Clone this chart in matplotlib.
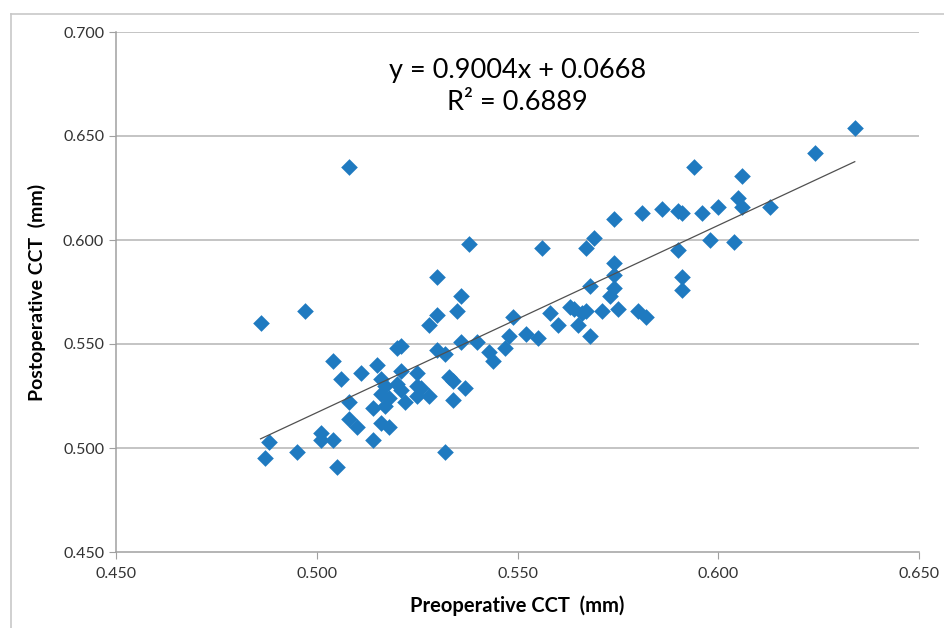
import matplotlib
matplotlib.use('Agg')
import matplotlib.pyplot as plt
from matplotlib.lines import Line2D
import numpy as np

plt.rcParams['font.family'] = ['Lato', 'DejaVu Sans']

# preoperative / postoperative CCT (mm)
pre_cct = [0.486, 0.487, 0.488, 0.495, 0.497, 0.501, 0.501, 0.504, 0.504, 0.505,
           0.506, 0.508, 0.508, 0.508, 0.510, 0.511, 0.514, 0.514, 0.515, 0.516,
           0.516, 0.516, 0.517, 0.517, 0.518, 0.518, 0.520, 0.521, 0.521, 0.520,
           0.521, 0.522, 0.525, 0.525, 0.525, 0.526, 0.528, 0.528, 0.530, 0.530,
           0.530, 0.532, 0.532, 0.533, 0.534, 0.534, 0.535, 0.536, 0.536, 0.537,
           0.538, 0.540, 0.543, 0.544, 0.547, 0.548, 0.549, 0.552, 0.555, 0.556,
           0.558, 0.560, 0.563, 0.564, 0.565, 0.566, 0.567, 0.568, 0.568, 0.567,
           0.569, 0.571, 0.573, 0.574, 0.574, 0.574, 0.574, 0.575, 0.580, 0.581,
           0.582, 0.586, 0.590, 0.591, 0.590, 0.591, 0.591, 0.594, 0.596, 0.598,
           0.600, 0.604, 0.605, 0.606, 0.606, 0.613, 0.624, 0.634]
post_cct = [0.560, 0.495, 0.503, 0.498, 0.566, 0.507, 0.504, 0.542, 0.504, 0.491,
            0.533, 0.635, 0.522, 0.514, 0.510, 0.536, 0.519, 0.504, 0.540, 0.533,
            0.526, 0.512, 0.520, 0.530, 0.524, 0.510, 0.548, 0.549, 0.537, 0.531,
            0.528, 0.522, 0.536, 0.530, 0.525, 0.529, 0.525, 0.559, 0.582, 0.564,
            0.547, 0.545, 0.498, 0.534, 0.532, 0.523, 0.566, 0.573, 0.551, 0.529,
            0.598, 0.551, 0.546, 0.542, 0.548, 0.554, 0.563, 0.555, 0.553, 0.596,
            0.565, 0.559, 0.568, 0.567, 0.559, 0.565, 0.596, 0.578, 0.554, 0.566,
            0.601, 0.566, 0.573, 0.610, 0.589, 0.583, 0.577, 0.567, 0.566, 0.613,
            0.563, 0.615, 0.614, 0.613, 0.595, 0.582, 0.576, 0.635, 0.613, 0.600,
            0.616, 0.599, 0.620, 0.616, 0.631, 0.616, 0.642, 0.654]

slope = 0.9004
intercept = 0.0668
r2 = 0.6889

x_ticks = [0.450, 0.500, 0.550, 0.600, 0.650]
y_ticks = [0.450, 0.500, 0.550, 0.600, 0.650, 0.700]

fig = plt.figure(figsize=(9.45, 6.28), dpi=100)
ax = fig.add_axes([116 / 945, 1 - 552 / 628, (919 - 116) / 945, (552 - 32) / 628])

# chart frame (excel style, cut off on right / bottom)
fig.add_artist(Line2D([11 / 945, 1.0], [1 - 14 / 628, 1 - 14 / 628], color='#c8c8c8', lw=1.2))
fig.add_artist(Line2D([11 / 945, 11 / 945], [0.0, 1 - 14 / 628], color='#c8c8c8', lw=1.2))

for yv in y_ticks[1:]:
    ax.axhline(yv, color='#b4b4b4', lw=1.1, zorder=0)

ax.scatter(pre_cct, post_cct, marker='D', s=72, color='#1f7ac0', zorder=3, linewidths=0)

# linear trendline
xs = np.array([min(pre_cct), max(pre_cct)])
ax.plot(xs, slope * xs + intercept, color='#505050', lw=0.9, zorder=4)

ax.set_xlim(0.450, 0.650)
ax.set_ylim(0.450, 0.700)
ax.set_xticks(x_ticks)
ax.set_yticks(y_ticks)
ax.set_xticklabels(['%.3f' % v for v in x_ticks])
ax.set_yticklabels(['%.3f' % v for v in y_ticks])
ax.tick_params(axis='both', direction='out', length=5, color='#a0a0a0', labelsize=11.5,
               labelcolor='#333333')
ax.tick_params(axis='x', pad=6)

for side in ['top', 'right']:
    ax.spines[side].set_visible(False)
for side in ['left', 'bottom']:
    ax.spines[side].set_color('#a0a0a0')
    ax.spines[side].set_linewidth(1.1)

ax.set_xlabel('Preoperative CCT  (mm)', fontsize=14.5, fontweight='bold', labelpad=10)
ax.set_ylabel('Postoperative CCT  (mm)', fontsize=14, fontweight='bold', labelpad=12)

ax.text(0.5, 0.926, 'y = %.4fx + %.4f' % (slope, intercept), transform=ax.transAxes,
        ha='center', va='center', fontsize=19.5)
ax.text(0.5, 0.864, 'R² = %.4f' % r2, transform=ax.transAxes,
        ha='center', va='center', fontsize=19.5)

fig.savefig('out.png', dpi=100)
